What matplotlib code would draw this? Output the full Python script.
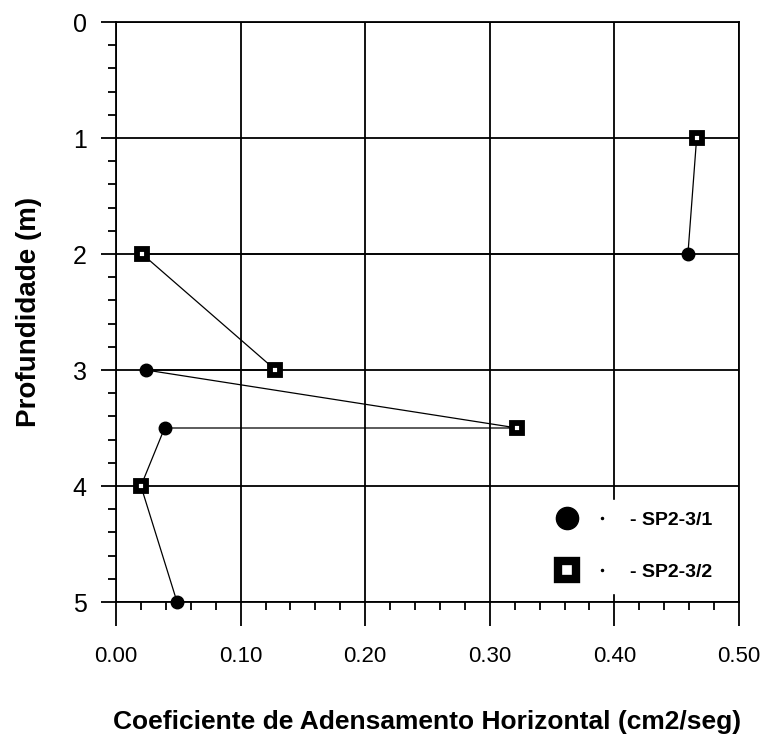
import matplotlib.pyplot as plt
from matplotlib.lines import Line2D
from matplotlib.legend_handler import HandlerTuple
from matplotlib.ticker import MultipleLocator, FormatStrFormatter

# profundidade (m) e coeficiente de adensamento horizontal (cm2/seg)
prof_sp1 = [2.0, 3.0, 3.5, 5.0]
ch_sp1 = [0.459, 0.024, 0.039, 0.049]

prof_sp2 = [1.0, 2.0, 3.0, 3.5, 4.0]
ch_sp2 = [0.466, 0.021, 0.128, 0.322, 0.020]

# ordem da linha que liga os ensaios, por profundidade
prof_linha = [1.0, 2.0, 2.0, 3.0, 3.0, 3.5, 3.5, 4.0, 5.0]
ch_linha = [0.466, 0.459, 0.021, 0.128, 0.024, 0.322, 0.039, 0.020, 0.049]

nomes = ["- SP2-3/1", "- SP2-3/2"]

W, H = 762, 736
fig = plt.figure(figsize=(W / 100, H / 100), dpi=100)
ax = fig.add_axes([116 / W, 1 - 602 / H, (739 - 116) / W, (602 - 22) / H])

ax.plot(ch_linha, prof_linha, color="black", lw=0.9, zorder=3)
ax.plot(ch_sp1, prof_sp1, ls="none", marker="o", ms=9, color="black",
        zorder=4, clip_on=False)
ax.plot(ch_sp2, prof_sp2, ls="none", marker="s", ms=6.5, mfc="white",
        mec="black", mew=4.2, zorder=4, clip_on=False)

ax.set_xlim(0, 0.5)
ax.set_ylim(5, 0)
ax.xaxis.set_major_locator(MultipleLocator(0.1))
ax.xaxis.set_minor_locator(MultipleLocator(0.02))
ax.xaxis.set_major_formatter(FormatStrFormatter("%.2f"))
ax.yaxis.set_major_locator(MultipleLocator(1))
ax.yaxis.set_minor_locator(MultipleLocator(0.2))

ax.grid(which="major", color="black", lw=1.3)
ax.set_axisbelow(True)
for s in ax.spines.values():
    s.set_linewidth(1.3)

ax.tick_params(axis="x", which="major", direction="out", length=17,
               width=1.3, pad=15, labelsize=16)
ax.tick_params(axis="x", which="minor", direction="out", length=6, width=1.3)
ax.tick_params(axis="y", which="major", direction="out", length=11,
               width=1.3, pad=10, labelsize=18)
ax.tick_params(axis="y", which="minor", direction="out", length=6, width=1.3)
for lab in ax.get_xticklabels() + ax.get_yticklabels():
    lab.set_fontfamily("Liberation Sans")

ax.set_xlabel("Coeficiente de Adensamento Horizontal (cm2/seg)",
              fontsize=19, fontweight="bold", family="Liberation Sans",
              labelpad=31)
ax.set_ylabel("Profundidade (m)", fontsize=20, fontweight="bold",
              family="Liberation Sans", labelpad=22)

# legenda: marcador seguido de um ponto pequeno
ponto = Line2D([], [], ls="none", marker="o", ms=1.5, color="black")
handles = [
    (Line2D([], [], ls="none", marker="o", ms=16, color="black"), ponto),
    (Line2D([], [], ls="none", marker="s", ms=13.5, mfc="white", mec="black",
            mew=6), ponto),
]
leg = ax.legend(handles, nomes, loc="upper left",
                bbox_to_anchor=(538 / W, 1 - 500 / H),
                bbox_transform=fig.transFigure, borderaxespad=0,
                handler_map={tuple: HandlerTuple(ndivide=2, pad=0)},
                frameon=True, fancybox=False, framealpha=1,
                edgecolor="white", facecolor="white",
                prop={"family": "Liberation Sans", "weight": "bold",
                      "size": 14},
                handlelength=3.6, handletextpad=0.55, labelspacing=1.75,
                borderpad=0.6)
leg.set_zorder(5)

fig.savefig("out.png", dpi=100)
